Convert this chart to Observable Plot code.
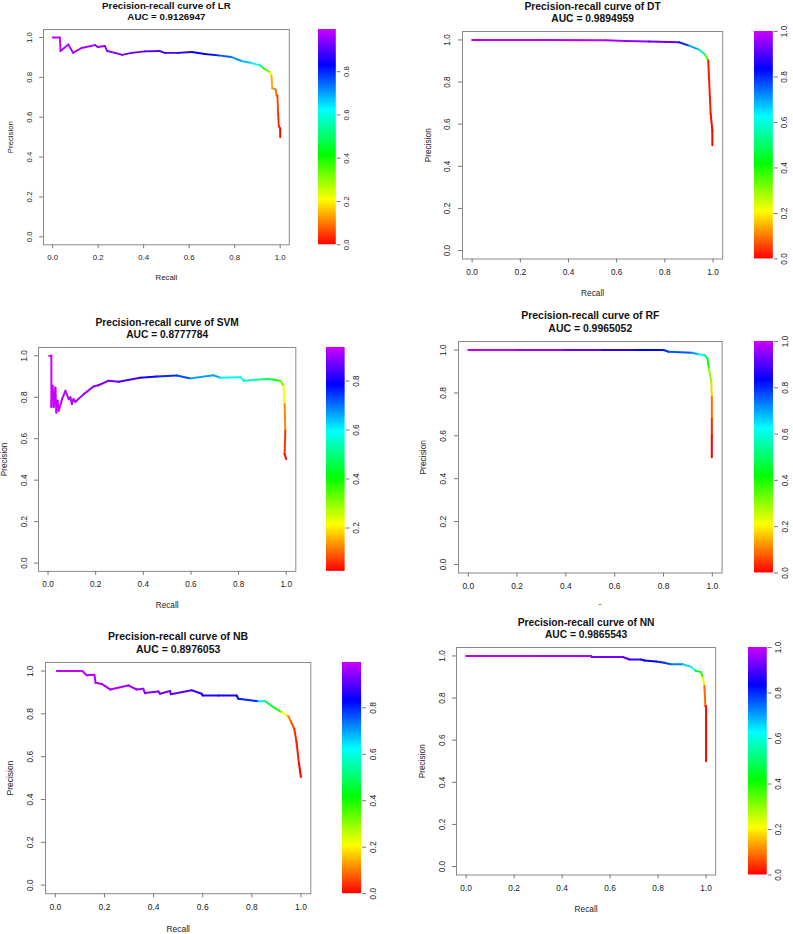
<!DOCTYPE html>
<html><head><meta charset="utf-8">
<script src="https://cdn.jsdelivr.net/npm/d3@7"></script>
<script src="https://cdn.jsdelivr.net/npm/@observablehq/plot@0.6"></script>
<style>
html,body{margin:0;padding:0;background:#fff;}
#page{position:relative;width:793px;height:934px;overflow:hidden;background:#fff;font-family:"Liberation Sans",Arial,sans-serif;}
#page svg{position:absolute;overflow:visible;}
</style></head><body><div id="page"></div>
<script>
// ---------- data ----------
const models = ["LR", "DT", "SVM", "RF", "NB", "NN"];
const aucValues = ["0.9126947", "0.9894959", "0.8777784", "0.9965052", "0.8976053", "0.9865543"];
const axisTicks = [0, 0.2, 0.4, 0.6, 0.8, 1.0];

const lrRecall    = [0, 0.032, 0.035, 0.069, 0.09, 0.127, 0.186, 0.198, 0.23, 0.24, 0.274, 0.306, 0.347, 0.405, 0.471, 0.493, 0.552, 0.611, 0.669, 0.728, 0.786, 0.83, 0.874, 0.911, 0.933, 0.955, 0.962, 0.965, 0.98, 0.984, 0.988, 0.991, 0.994, 1.0, 1.0];
const lrPrecision = [1.0, 1.0, 0.932, 0.965, 0.923, 0.947, 0.962, 0.952, 0.957, 0.932, 0.923, 0.913, 0.923, 0.93, 0.932, 0.923, 0.923, 0.927, 0.917, 0.91, 0.902, 0.882, 0.872, 0.86, 0.84, 0.826, 0.808, 0.746, 0.739, 0.709, 0.709, 0.617, 0.555, 0.545, 0.5];
const lrThreshold = [0.99, 0.985, 0.98, 0.975, 0.97, 0.965, 0.96, 0.955, 0.95, 0.945, 0.94, 0.93, 0.92, 0.91, 0.89, 0.885, 0.88, 0.86, 0.84, 0.82, 0.76, 0.71, 0.67, 0.6, 0.45, 0.33, 0.22, 0.14, 0.11, 0.09, 0.08, 0.05, 0.03, 0.02, 0.0];

const dtRecall    = [0.0, 0.3, 0.554, 0.637, 0.734, 0.859, 0.9, 0.942, 0.967, 0.98, 0.99, 0.997, 0.997];
const dtPrecision = [1.0, 1.0, 0.998, 0.995, 0.992, 0.989, 0.973, 0.954, 0.93, 0.902, 0.651, 0.572, 0.5];
const dtThreshold = [1.0, 0.99, 0.985, 0.975, 0.96, 0.92, 0.8, 0.7, 0.55, 0.35, 0.02, 0.01, 0.0];

const svmRecall    = [0.005, 0.014, 0.014, 0.019, 0.024, 0.031, 0.035, 0.04, 0.045, 0.059, 0.073, 0.087, 0.094, 0.1, 0.107, 0.115, 0.15, 0.191, 0.212, 0.254, 0.296, 0.387, 0.457, 0.541, 0.583, 0.597, 0.695, 0.723, 0.807, 0.821, 0.877, 0.92, 0.947, 0.975, 0.989, 0.993, 0.996, 0.993, 1.0];
const svmPrecision = [1.0, 1.0, 0.753, 0.855, 0.753, 0.847, 0.726, 0.783, 0.735, 0.791, 0.831, 0.791, 0.8, 0.767, 0.791, 0.778, 0.815, 0.852, 0.858, 0.88, 0.875, 0.894, 0.9, 0.905, 0.894, 0.891, 0.906, 0.894, 0.897, 0.88, 0.885, 0.888, 0.885, 0.879, 0.855, 0.767, 0.639, 0.525, 0.502];
const svmThreshold = [0.937, 0.936, 0.935, 0.934, 0.933, 0.932, 0.931, 0.93, 0.929, 0.928, 0.926, 0.924, 0.922, 0.92, 0.918, 0.916, 0.91, 0.9, 0.895, 0.88, 0.87, 0.84, 0.8, 0.75, 0.73, 0.72, 0.67, 0.65, 0.6, 0.59, 0.55, 0.5, 0.45, 0.4, 0.33, 0.22, 0.12, 0.06, 0.023];

const rfRecall    = [0.0, 0.2, 0.4, 0.55, 0.68, 0.8, 0.821, 0.916, 0.943, 0.97, 0.98, 0.986, 0.996, 0.998, 0.998, 0.998, 0.998];
const rfPrecision = [1.0, 1.0, 1.0, 1.0, 1.0, 1.0, 0.992, 0.987, 0.98, 0.976, 0.96, 0.913, 0.851, 0.78, 0.68, 0.6, 0.5];
const rfThreshold = [1.0, 0.99, 0.96, 0.92, 0.87, 0.83, 0.8, 0.76, 0.7, 0.62, 0.5, 0.4, 0.3, 0.17, 0.09, 0.03, 0.0];

const nbRecall    = [0.006, 0.11, 0.128, 0.159, 0.164, 0.189, 0.223, 0.297, 0.331, 0.358, 0.365, 0.419, 0.426, 0.467, 0.47, 0.555, 0.596, 0.6, 0.664, 0.738, 0.745, 0.826, 0.854, 0.894, 0.921, 0.948, 0.959, 0.973, 0.982, 0.992, 1.0];
const nbPrecision = [1.0, 1.0, 0.98, 0.983, 0.945, 0.94, 0.914, 0.933, 0.914, 0.917, 0.897, 0.905, 0.894, 0.907, 0.892, 0.91, 0.894, 0.886, 0.886, 0.886, 0.871, 0.859, 0.859, 0.827, 0.808, 0.79, 0.765, 0.73, 0.668, 0.567, 0.505];
const nbThreshold = [0.995, 0.99, 0.985, 0.98, 0.978, 0.975, 0.97, 0.965, 0.96, 0.955, 0.95, 0.94, 0.935, 0.925, 0.92, 0.9, 0.88, 0.875, 0.86, 0.84, 0.835, 0.8, 0.64, 0.47, 0.38, 0.2, 0.1, 0.06, 0.03, 0.02, 0.0];

const nnRecall    = [0.0, 0.3, 0.521, 0.523, 0.653, 0.681, 0.729, 0.743, 0.792, 0.826, 0.854, 0.903, 0.938, 0.956, 0.979, 0.986, 0.993, 0.997, 1.0, 1.0];
const nnPrecision = [1.0, 1.0, 1.0, 0.995, 0.995, 0.983, 0.983, 0.978, 0.973, 0.968, 0.96, 0.96, 0.948, 0.929, 0.924, 0.897, 0.857, 0.761, 0.761, 0.5];
const nnThreshold = [1.0, 0.99, 0.97, 0.965, 0.93, 0.9, 0.88, 0.86, 0.83, 0.81, 0.78, 0.73, 0.66, 0.6, 0.45, 0.38, 0.2, 0.08, 0.04, 0.0];

const barDomains = [[0, 0.995], [0, 1], [0.023, 0.937], [0, 1], [0, 0.995], [0, 1]];
const barTicks = [[0, 0.2, 0.4, 0.6, 0.8], [0, 0.2, 0.4, 0.6, 0.8, 1.0], [0.2, 0.4, 0.6, 0.8], [0, 0.2, 0.4, 0.6, 0.8, 1.0], [0, 0.2, 0.4, 0.6, 0.8], [0, 0.2, 0.4, 0.6, 0.8, 1.0]];

const curves = [
  [lrRecall, lrPrecision, lrThreshold],
  [dtRecall, dtPrecision, dtThreshold],
  [svmRecall, svmPrecision, svmThreshold],
  [rfRecall, rfPrecision, rfThreshold],
  [nbRecall, nbPrecision, nbThreshold],
  [nnRecall, nnPrecision, nnThreshold]
];

// ---------- layout (pixel boxes of each panel) ----------
const layout = [
  {L: 42.6,  R: 288.4, T: 28.7,  B: 244.0, bar: 318.0},
  {L: 462.1, R: 722.3, T: 30.9,  B: 258.4, bar: 754.0},
  {L: 38.2,  R: 295.5, T: 346.7, B: 570.6, bar: 326.0},
  {L: 457.9, R: 721.5, T: 341.4, B: 572.9, bar: 754.0},
  {L: 44.5,  R: 309.8, T: 662.4, B: 893.6, bar: 342.3},
  {L: 456.4, R: 715.6, T: 646.6, B: 874.1, bar: 747.7, padTop: 42, bg: "#fff"}
];

const FONT = '"Liberation Sans", Arial, Helvetica, sans-serif';
const rainbow = t => d3.hsl(288 * Math.max(0, Math.min(1, t)), 1, 0.5).toString();
const fmt = d => d.toFixed(1);
const page = document.getElementById("page");

function drawPanel(i) {
  const lay = layout[i];
  const w = lay.R - lay.L, h = lay.B - lay.T;
  const s = w / 260;
  const mL = 48, mR = 6, mT = lay.padTop || 32, mB = 44;
  const [rec, prec, thr] = curves[i];
  const segs = rec.slice(1).map((r, j) => ({
    x1: rec[j], y1: prec[j], x2: r, y2: prec[j + 1], t: thr[j + 1]
  }));
  const [lo, hi] = barDomains[i];
  const color = {type: "linear", domain: [lo, hi], interpolate: rainbow, clamp: true};
  const fs = 8.3 * s, fsT = 10.3 * s;

  const chart = Plot.plot({
    width: w + mL + mR, height: h + mT + mB,
    marginLeft: mL, marginRight: mR, marginTop: mT, marginBottom: mB,
    style: {fontFamily: FONT, fontSize: fs + "px", color: "#222", background: lay.bg || "transparent", overflow: "visible"},
    x: {domain: [-0.04, 1.04]},
    y: {domain: [-0.04, 1.04]},
    color,
    marks: [
      Plot.frame({stroke: "#8a8a8a"}),
      Plot.axisX(axisTicks, {tickSize: 4 * s, tickPadding: 6 * s, tickFormat: fmt, label: null, stroke: "#777"}),
      Plot.axisY(axisTicks, {tickSize: 4 * s, tickPadding: 8 * s, tickRotate: -90, textAnchor: "middle", lineAnchor: "bottom", tickFormat: fmt, label: null, stroke: "#777"}),
      Plot.link(segs, {x1: "x1", y1: "y1", x2: "x2", y2: "y2", stroke: "t", strokeWidth: 2 * s, strokeLinecap: "round", strokeLinejoin: "round"}),
      Plot.text(["Precision-recall curve of " + models[i]], {frameAnchor: "top", lineAnchor: "middle", textAnchor: "middle", dy: -25 * s, fontWeight: "bold", fontSize: fsT, fill: "#111"}),
      Plot.text(["AUC = " + aucValues[i]], {frameAnchor: "top", lineAnchor: "middle", textAnchor: "middle", dy: -13 * s, fontWeight: "bold", fontSize: fsT, fill: "#111"}),
      Plot.text(["Recall"], {frameAnchor: "bottom", lineAnchor: "middle", textAnchor: "middle", dy: 34.5 * s, fontSize: fs}),
      Plot.text(["Precision"], {frameAnchor: "left", lineAnchor: "middle", textAnchor: "middle", dx: -34.5 * s, rotate: -90, fontSize: fs})
    ]
  });
  chart.style.left = (lay.L - mL) + "px";
  chart.style.top = (lay.T - mT) + "px";
  page.appendChild(chart);

  const bw = 18.7 * s;
  const N = 150;
  const step = (hi - lo) / N;
  const steps = d3.range(N).map(k => lo + step * k);
  const bar = Plot.plot({
    width: bw + 30, height: h + mT + mB,
    marginLeft: 0, marginRight: 30, marginTop: mT, marginBottom: mB,
    style: {fontFamily: FONT, fontSize: fs + "px", color: "#222", background: "transparent", overflow: "visible"},
    x: {domain: [0, 1], axis: null},
    y: {domain: [lo, hi]},
    color,
    marks: [
      Plot.rect(steps, {x1: () => 0, x2: () => 1, y1: d => d, y2: d => Math.min(hi, d + step * 1.6), fill: d => d + step / 2}),
      Plot.axisY(barTicks[i], {anchor: "right", tickSize: 4 * s, tickPadding: 4 * s, tickRotate: -90, textAnchor: "middle", lineAnchor: "top", tickFormat: fmt, label: null, stroke: "#777"})
    ]
  });
  bar.style.left = lay.bar + "px";
  bar.style.top = (lay.T - mT) + "px";
  page.appendChild(bar);
}

for (let i = 0; i < 6; i++) drawPanel(i);
</script>
</body></html>
